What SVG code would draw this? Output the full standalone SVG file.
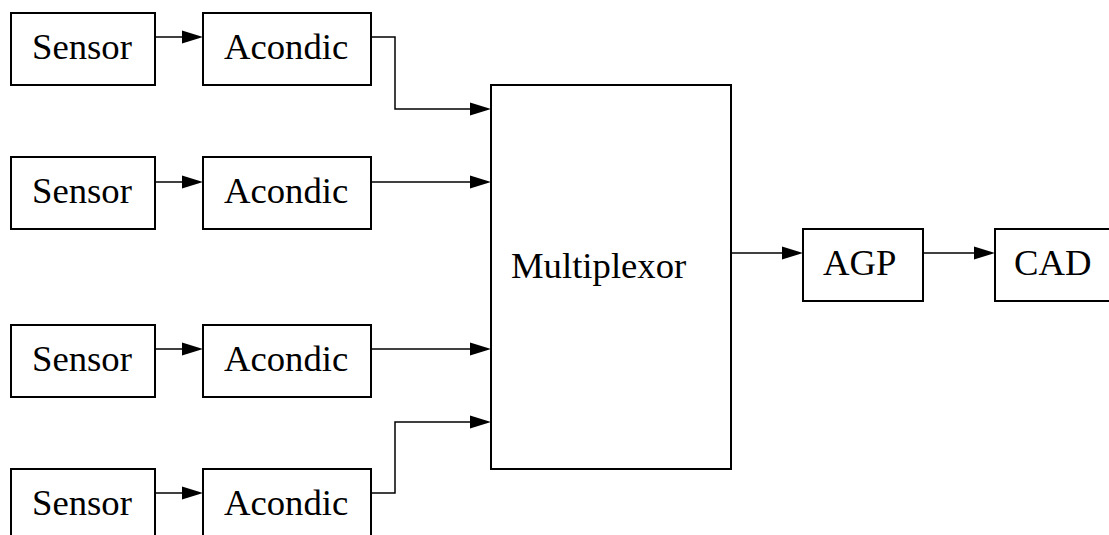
<svg xmlns="http://www.w3.org/2000/svg" width="1109" height="535" viewBox="0 0 1109 535">
<style>
.box{fill:#fff;stroke:#000;stroke-width:2}
.lbl{font-family:"Liberation Serif","Times New Roman",serif;font-size:36.7px;fill:#000}
.con{fill:none;stroke:#000;stroke-width:1.5}
</style>
<defs>
<path id="ah" d="M-21,-6.5 L0,0 L-21,6.5 z" fill="#000"/>
</defs>
<rect width="1109" height="535" fill="#fff"/>
<g id="connectors">
<path class="con" d="M155,37 H190"/><use href="#ah" x="203" y="37"/>
<path class="con" d="M155,182 H190"/><use href="#ah" x="203" y="182"/>
<path class="con" d="M155,349 H190"/><use href="#ah" x="203" y="349"/>
<path class="con" d="M155,493 H190"/><use href="#ah" x="203" y="493"/>
<path class="con" d="M371,37 H395 V109 H478"/><use href="#ah" x="491" y="109"/>
<path class="con" d="M371,182 H478"/><use href="#ah" x="491" y="182"/>
<path class="con" d="M371,349 H478"/><use href="#ah" x="491" y="349"/>
<path class="con" d="M371,493 H395 V422 H478"/><use href="#ah" x="491" y="422"/>
<path class="con" d="M731,253 H790"/><use href="#ah" x="803" y="253"/>
<path class="con" d="M923,253 H982"/><use href="#ah" x="995" y="253"/>
</g>
<g id="sensor1"><rect class="box" x="11" y="13" width="144" height="72"/><text class="lbl" x="32" y="59">Sensor</text></g>
<g id="acondic1"><rect class="box" x="203" y="13" width="168" height="72"/><text class="lbl" x="224" y="59">Acondic</text></g>
<g id="sensor2"><rect class="box" x="11" y="157" width="144" height="72"/><text class="lbl" x="32" y="203">Sensor</text></g>
<g id="acondic2"><rect class="box" x="203" y="157" width="168" height="72"/><text class="lbl" x="224" y="203">Acondic</text></g>
<g id="sensor3"><rect class="box" x="11" y="325" width="144" height="72"/><text class="lbl" x="32" y="371">Sensor</text></g>
<g id="acondic3"><rect class="box" x="203" y="325" width="168" height="72"/><text class="lbl" x="224" y="371">Acondic</text></g>
<g id="sensor4"><rect class="box" x="11" y="469" width="144" height="72"/><text class="lbl" x="32" y="515">Sensor</text></g>
<g id="acondic4"><rect class="box" x="203" y="469" width="168" height="72"/><text class="lbl" x="224" y="515">Acondic</text></g>
<g id="multiplexor"><rect class="box" x="491" y="85" width="240" height="384"/><text class="lbl" x="511" y="278">Multiplexor</text></g>
<g id="agp"><rect class="box" x="803" y="229" width="120" height="72"/><text class="lbl" x="823" y="275">AGP</text></g>
<g id="cad"><rect class="box" x="995" y="229" width="130" height="72"/><text class="lbl" x="1014" y="275">CAD</text></g>
</svg>
